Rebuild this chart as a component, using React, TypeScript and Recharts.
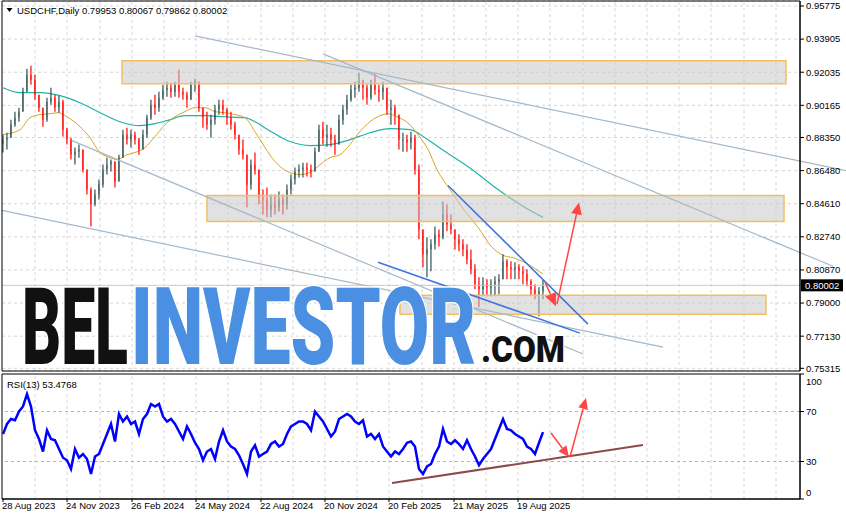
import React from 'react';
import { ComposedChart, Bar, Line, XAxis, YAxis, CartesianGrid, ReferenceLine, ReferenceArea } from 'recharts';

const FONT = "'Liberation Sans', Arial, sans-serif";

// ---- price bars (each bar = 4 trading days) ----
const daysPerBar = 4;
const firstOpen = 0.8800;
const barHigh = [
  0.8851, 0.8862, 0.8935, 0.8981, 0.9003, 0.9116, 0.9223, 0.9240, 0.9189, 0.9076,
  0.9003, 0.9059, 0.9116, 0.9076, 0.9071, 0.9048, 0.8890, 0.8834, 0.8778, 0.8795,
  0.8767, 0.8654, 0.8553, 0.8541, 0.8598, 0.8682, 0.8721, 0.8710, 0.8699, 0.8738,
  0.8879, 0.8890, 0.8879, 0.8868, 0.8834, 0.8879, 0.8964, 0.9048, 0.9076, 0.9093,
  0.9133, 0.9150, 0.9144, 0.9150, 0.9217, 0.9116, 0.9093, 0.9150, 0.9166, 0.9133,
  0.9003, 0.8981, 0.8964, 0.9020, 0.9048, 0.9048, 0.9003, 0.8981, 0.8924, 0.8851,
  0.8823, 0.8738, 0.8710, 0.8750, 0.8654, 0.8541, 0.8553, 0.8513, 0.8513, 0.8530,
  0.8513, 0.8569, 0.8626, 0.8665, 0.8682, 0.8693, 0.8693, 0.8682, 0.8778, 0.8907,
  0.8924, 0.8907, 0.8890, 0.8851, 0.8964, 0.9020, 0.9076, 0.9133, 0.9150, 0.9200,
  0.9161, 0.9133, 0.9161, 0.9195, 0.9133, 0.9150, 0.9104, 0.9048, 0.9020, 0.8935,
  0.8862, 0.8851, 0.8868, 0.8851, 0.8682, 0.8316, 0.8271, 0.8260, 0.8333, 0.8316,
  0.8474, 0.8457, 0.8400, 0.8316, 0.8288, 0.8260, 0.8232, 0.8203, 0.8119, 0.8046,
  0.8046, 0.8034, 0.8034, 0.8051, 0.8063, 0.8175, 0.8147, 0.8136, 0.8130, 0.8119,
  0.8108, 0.8091, 0.8034, 0.8006, 0.7989, 0.8034,
];
const barLow = [
  0.8750, 0.8767, 0.8851, 0.8896, 0.8924, 0.9003, 0.9104, 0.9133, 0.9048, 0.8981,
  0.8896, 0.8924, 0.9020, 0.8981, 0.8975, 0.8840, 0.8795, 0.8710, 0.8682, 0.8721,
  0.8637, 0.8513, 0.8333, 0.8446, 0.8485, 0.8553, 0.8626, 0.8643, 0.8553, 0.8598,
  0.8721, 0.8795, 0.8778, 0.8795, 0.8738, 0.8767, 0.8834, 0.8935, 0.8964, 0.8981,
  0.9048, 0.9065, 0.9059, 0.9065, 0.9059, 0.9048, 0.9003, 0.9048, 0.9093, 0.8981,
  0.8890, 0.8879, 0.8834, 0.8907, 0.8964, 0.8964, 0.8907, 0.8879, 0.8823, 0.8738,
  0.8710, 0.8440, 0.8541, 0.8626, 0.8457, 0.8400, 0.8384, 0.8384, 0.8400, 0.8417,
  0.8400, 0.8429, 0.8513, 0.8569, 0.8609, 0.8609, 0.8614, 0.8609, 0.8654, 0.8767,
  0.8795, 0.8783, 0.8783, 0.8738, 0.8823, 0.8907, 0.8964, 0.9037, 0.9059, 0.9093,
  0.9048, 0.9020, 0.9048, 0.9076, 0.9037, 0.9048, 0.8964, 0.8907, 0.8907, 0.8767,
  0.8755, 0.8755, 0.8767, 0.8626, 0.8260, 0.8102, 0.8046, 0.8080, 0.8203, 0.8220,
  0.8260, 0.8305, 0.8288, 0.8203, 0.8192, 0.8164, 0.8119, 0.8063, 0.7978, 0.7877,
  0.7939, 0.7939, 0.7939, 0.7939, 0.7950, 0.8034, 0.8034, 0.8034, 0.8034, 0.8034,
  0.8006, 0.7995, 0.7939, 0.7922, 0.7826, 0.7922,
];
const barClose = [
  0.8823, 0.8834, 0.8907, 0.8947, 0.8981, 0.9093, 0.9189, 0.9161, 0.9076, 0.9003,
  0.8935, 0.9037, 0.9059, 0.9003, 0.9037, 0.8879, 0.8823, 0.8738, 0.8755, 0.8767,
  0.8654, 0.8541, 0.8457, 0.8513, 0.8569, 0.8654, 0.8682, 0.8699, 0.8586, 0.8721,
  0.8851, 0.8823, 0.8851, 0.8823, 0.8767, 0.8851, 0.8947, 0.9020, 0.9003, 0.9059,
  0.9104, 0.9116, 0.9093, 0.9133, 0.9093, 0.9076, 0.9048, 0.9133, 0.9150, 0.9003,
  0.8947, 0.8907, 0.8935, 0.8992, 0.9020, 0.8992, 0.8947, 0.8907, 0.8851, 0.8767,
  0.8738, 0.8569, 0.8682, 0.8654, 0.8496, 0.8485, 0.8429, 0.8457, 0.8440, 0.8485,
  0.8457, 0.8541, 0.8598, 0.8643, 0.8654, 0.8665, 0.8654, 0.8643, 0.8755, 0.8879,
  0.8834, 0.8851, 0.8823, 0.8795, 0.8935, 0.8992, 0.9048, 0.9104, 0.9116, 0.9150,
  0.9116, 0.9059, 0.9133, 0.9104, 0.9093, 0.9116, 0.8992, 0.9003, 0.8964, 0.8823,
  0.8823, 0.8806, 0.8834, 0.8654, 0.8316, 0.8175, 0.8203, 0.8232, 0.8288, 0.8271,
  0.8400, 0.8344, 0.8316, 0.8260, 0.8232, 0.8203, 0.8147, 0.8091, 0.8006, 0.7978,
  0.8006, 0.7989, 0.8006, 0.8023, 0.8034, 0.8136, 0.8102, 0.8091, 0.8102, 0.8080,
  0.8063, 0.8023, 0.7978, 0.7950, 0.7967, 0.80002,
];

// ---- RSI(13), one value per bar ----
const rsiValues = [
  52, 60, 64, 63, 70, 74, 84, 74, 55, 48,
  38, 55, 48, 47, 40, 33, 31, 24, 40, 33,
  36, 32, 20, 34, 36, 44, 52, 60, 46, 68,
  62, 66, 60, 62, 52, 64, 68, 76, 74, 76,
  66, 62, 64, 60, 54, 48, 58, 52, 45, 40,
  31, 38, 40, 32, 46, 55, 46, 42, 40, 35,
  28, 20, 38, 43, 34, 36, 38, 44, 46, 42,
  44, 52, 58, 60, 62, 62, 60, 55, 70, 66,
  62, 56, 50, 54, 64, 66, 68, 66, 62, 60,
  63, 50, 52, 48, 52, 42, 38, 34, 38, 36,
  40, 45, 46, 42, 24, 20, 26, 28, 36, 42,
  56, 46, 44, 47, 44, 40, 47, 40, 34, 27,
  32, 36, 40, 48, 56, 64, 56, 55, 52, 50,
  48, 42, 40, 36, 45, 53.4768,
];

// ---- moving averages (day index, value) ----
const maFastDays = [0, 17, 27, 37, 47, 55, 64, 77, 87, 97, 107, 114, 124, 132, 142, 152, 162, 172, 182, 192, 202, 212, 222, 232, 242, 252, 262, 272, 287, 297, 307, 317, 327, 337, 347, 357, 367, 377, 385, 394, 407, 415, 425, 434, 447, 462, 475, 489, 500, 512, 525, 540];
const maFastValues = [0.8851, 0.8879, 0.8947, 0.8964, 0.8969, 0.8975, 0.8952, 0.8896, 0.8834, 0.8750, 0.8721, 0.8710, 0.8738, 0.8750, 0.8778, 0.8840, 0.8907, 0.8952, 0.8981, 0.9003, 0.9003, 0.8981, 0.8975, 0.8964, 0.8947, 0.8868, 0.8778, 0.8699, 0.8637, 0.8626, 0.8637, 0.8682, 0.8721, 0.8738, 0.8795, 0.8868, 0.8924, 0.8958, 0.8969, 0.8952, 0.8907, 0.8851, 0.8767, 0.8654, 0.8541, 0.8418, 0.8328, 0.8215, 0.8170, 0.8153, 0.8119, 0.8063];
const maSlowDays = [0, 17, 37, 57, 77, 97, 117, 137, 152, 164, 182, 202, 222, 242, 252, 265, 287, 307, 327, 347, 367, 387, 407, 422, 439, 469, 495, 517, 540];
const maSlowValues = [0.9116, 0.9088, 0.9088, 0.9071, 0.9031, 0.8975, 0.8924, 0.8902, 0.8913, 0.8930, 0.8958, 0.8958, 0.8952, 0.8947, 0.8924, 0.8879, 0.8812, 0.8789, 0.8795, 0.8823, 0.8862, 0.8885, 0.8879, 0.8834, 0.8767, 0.8654, 0.8541, 0.8457, 0.8384];

// ---- axes ----
const priceTicks = [0.95775, 0.93905, 0.92035, 0.90165, 0.8835, 0.8648, 0.8461, 0.8274, 0.8087, 0.79, 0.7713, 0.75315];
const rsiTicks = [0, 30, 70, 100];
const rsiLevels = [30, 70];
const dateTickDays = [0, 64, 129, 193, 258, 322, 386, 451, 515];
const dateTickLabels = ['28 Aug 2023', '24 Nov 2023', '26 Feb 2024', '24 May 2024', '22 Aug 2024', '20 Nov 2024', '20 Feb 2025', '21 May 2025', '19 Aug 2025'];
const gridDays = [32, 64, 97, 129, 161, 193, 225, 258, 290, 322, 354, 386, 419, 451, 483, 515, 547, 580, 612, 644, 676, 708, 741, 773];
const dayDomain = [-1, 797];
const priceDomain = [0.75164, 0.96057];

const symbolTitle = 'USDCHF,Daily';
const ohlcTitle = ['0.79953', '0.80067', '0.79862', '0.80002'];
const lastPrice = 0.80002;
const rsiTitle = 'RSI(13) 53.4768';

// ---- zones: start day, end day, bottom, top ----
const zoneStart = [119, 204, 397];
const zoneEnd = [783, 781, 763];
const zoneBottom = [0.91382, 0.83611, 0.78373];
const zoneTop = [0.92678, 0.85074, 0.79443];

// ---- trend lines: [day1, price1, day2, price2] ----
const grayLines = [
  [192, 0.94086, 843, 0.86483],
  [320, 0.93072, 830, 0.81076],
  [-1, 0.84230, 660, 0.76515],
  [69, 0.88172, 580, 0.76120],
];
const blueLines = [
  [375, 0.81301, 577, 0.77303],
  [445, 0.85638, 585, 0.77810],
];
const priceArrows = [
  [542, 0.80175, 553, 0.78823],
  [554, 0.78936, 576, 0.84680],
];
const rsiArrows = [
  [548, 52.8, 566, 33.6],
  [567, 33.6, 583, 80.8],
];
const rsiTrend = [389, 12.8, 640, 43.2];

const candleRows = barClose.map((c, i) => {
  const open = i === 0 ? firstOpen : barClose[i - 1];
  const hi = Math.max(barHigh[i], open, c);
  const lo = Math.min(barLow[i], open, c);
  return { day: i * daysPerBar, open, close: c, high: hi, low: lo, range: [lo, hi] };
});
const rsiRows = rsiValues.map((v, i) => ({ day: i * daysPerBar, rsi: v }));
const maFastRows = maFastDays.map((d, i) => ({ day: d, ma: maFastValues[i] }));
const maSlowRows = maSlowDays.map((d, i) => ({ day: d, ma: maSlowValues[i] }));

const Candle = (props: any) => {
  const { x, y, width, height, payload } = props;
  if (x == null || y == null || !payload) return null;
  const top = Math.min(y, y + height);
  const h = Math.abs(height);
  const span = payload.high - payload.low || 1;
  const py = (v: number) => top + ((payload.high - v) / span) * h;
  const up = payload.close >= payload.open;
  const color = up ? '#2F4F4F' : '#FF0000';
  const oy = py(payload.open);
  const cy = py(payload.close);
  const cx = x + width / 2;
  return (
    <g>
      <line x1={cx} x2={cx} y1={top} y2={top + h} stroke={color} strokeWidth={1.2} />
      <rect x={x} y={Math.min(oy, cy)} width={width} height={Math.max(1, Math.abs(oy - cy))} fill={color} />
    </g>
  );
};

const makeArrow = (head: number, color: string) => (props: any) => {
  const { x1, y1, x2, y2 } = props;
  if (x1 == null) return null;
  const ang = Math.atan2(y2 - y1, x2 - x1);
  const bx = x2 - head * Math.cos(ang);
  const by = y2 - head * Math.sin(ang);
  const w = head * 0.45;
  const px = -Math.sin(ang) * w;
  const py = Math.cos(ang) * w;
  return (
    <g>
      <line x1={x1} y1={y1} x2={bx} y2={by} stroke={color} strokeWidth={1.5} />
      <polygon points={`${x2},${y2} ${bx + px},${by + py} ${bx - px},${by - py}`} fill={color} />
    </g>
  );
};

const PriceTag = (props: any) => {
  const vb = props.viewBox;
  if (!vb) return null;
  const x = vb.x + vb.width;
  const y = vb.y;
  return (
    <g>
      <rect x={x + 1} y={y - 6} width={42} height={12} fill="#000" />
      <text x={x + 5} y={y + 3.5} fill="#fff" fontSize={9.5} fontFamily={FONT}>{lastPrice.toFixed(5)}</text>
    </g>
  );
};

const RsiTick = (props: any) => {
  const { x, y, payload } = props;
  const v = payload.value;
  const dy = v === 100 ? 7 : v === 0 ? -7 : 0;
  return (
    <text x={x} y={y + dy + 3.5} fontSize={9.5} fontFamily={FONT} fill="#000">{v}</text>
  );
};

const DateTick = (props: any) => {
  const { x, y, payload } = props;
  const idx = dateTickDays.indexOf(payload.value);
  return (
    <text x={x - 1} y={y + 7} fontSize={9.5} fontFamily={FONT} fill="#000">{dateTickLabels[idx]}</text>
  );
};

const gridStroke = '#D6D6D6';
const trendGray = '#A4B8CA';
const trendBlue = '#3D74E0';
const arrowRed = '#FF4545';

export default function App() {
  return (
    <div style={{ position: 'absolute', left: 0, top: 0, width: 846, height: 520, background: '#fff', fontFamily: FONT, overflow: 'hidden' }}>
      <div style={{ position: 'absolute', left: 0, top: 0 }}>
        <ComposedChart width={846} height={377} data={candleRows} margin={{ top: 1, right: 0, bottom: 6, left: 2 }}>
          <CartesianGrid horizontal vertical={false} stroke={gridStroke} strokeDasharray="3 3" />
          <XAxis type="number" dataKey="day" domain={dayDomain} hide allowDataOverflow />
          <YAxis
            orientation="right"
            width={46}
            domain={priceDomain}
            ticks={priceTicks}
            interval={0}
            allowDataOverflow
            tickFormatter={(v: number) => v.toFixed(5)}
            tick={{ fontSize: 9.5, fontFamily: FONT, fill: '#000' }}
            tickSize={4}
            tickMargin={2}
            axisLine={{ stroke: '#000' }}
            tickLine={{ stroke: '#000' }}
          />
          {gridDays.map((d) => (
            <ReferenceLine key={'g' + d} x={d} stroke={gridStroke} strokeDasharray="3 3" zIndex={-90} />
          ))}
          <Line data={maSlowRows} dataKey="ma" type="monotone" stroke="#20B2AA" strokeWidth={1.2} dot={false} isAnimationActive={false} zIndex={250} />
          <Line data={maFastRows} dataKey="ma" type="monotone" stroke="#DAA520" strokeWidth={1} dot={false} isAnimationActive={false} zIndex={250} />
          <Bar dataKey="range" barSize={3} shape={Candle} isAnimationActive={false} zIndex={300} />
          {zoneStart.map((s, i) => (
            <ReferenceArea key={'z' + i} x1={s} x2={zoneEnd[i]} y1={zoneBottom[i]} y2={zoneTop[i]} fill="#C8C8C8" fillOpacity={0.55} stroke="#F2BE62" strokeWidth={1.5} ifOverflow="visible" zIndex={350} />
          ))}
          <ReferenceLine y={lastPrice} stroke="#C8C8C8" label={<PriceTag />} ifOverflow="visible" zIndex={380} />
          {grayLines.map((l, i) => (
            <ReferenceLine key={'t' + i} segment={[{ x: l[0], y: l[1] }, { x: l[2], y: l[3] }]} stroke={trendGray} strokeWidth={1.2} ifOverflow="visible" zIndex={400} />
          ))}
          {blueLines.map((l, i) => (
            <ReferenceLine key={'b' + i} segment={[{ x: l[0], y: l[1] }, { x: l[2], y: l[3] }]} stroke={trendBlue} strokeWidth={1.5} ifOverflow="visible" zIndex={400} />
          ))}
          {priceArrows.map((l, i) => (
            <ReferenceLine key={'a' + i} segment={[{ x: l[0], y: l[1] }, { x: l[2], y: l[3] }]} shape={makeArrow(i === 0 ? 13 : 12, arrowRed)} ifOverflow="visible" zIndex={450} />
          ))}
          <ReferenceArea x1={dayDomain[0]} x2={dayDomain[1]} y1={priceDomain[0]} y2={priceDomain[1]} fill="none" stroke="#000" strokeWidth={1} ifOverflow="visible" zIndex={500} />
        </ComposedChart>
      </div>
      <div style={{ position: 'absolute', left: 0, top: 372 }}>
        <ComposedChart width={846} height={148} data={rsiRows} margin={{ top: 2, right: 0, bottom: 0, left: 2 }}>
          <XAxis
            type="number"
            dataKey="day"
            domain={dayDomain}
            allowDataOverflow
            ticks={dateTickDays}
            interval={0}
            height={21}
            tick={<DateTick />}
            tickSize={3}
            tickMargin={0}
            axisLine={{ stroke: '#000' }}
            tickLine={{ stroke: '#000' }}
          />
          <YAxis
            orientation="right"
            width={46}
            domain={[0, 100]}
            ticks={rsiTicks}
            interval={0}
            allowDataOverflow
            tick={<RsiTick />}
            tickSize={4}
            tickMargin={2}
            axisLine={{ stroke: '#000' }}
            tickLine={{ stroke: '#000' }}
          />
          {gridDays.map((d) => (
            <ReferenceLine key={'g' + d} x={d} stroke={gridStroke} strokeDasharray="3 3" zIndex={-90} />
          ))}
          {rsiLevels.map((v) => (
            <ReferenceLine key={'l' + v} y={v} stroke="#B4B4B4" strokeDasharray="3 3" zIndex={-80} />
          ))}
          <Line dataKey="rsi" type="linear" stroke="#0000FF" strokeWidth={2.5} dot={false} isAnimationActive={false} zIndex={300} />
          <ReferenceLine segment={[{ x: rsiTrend[0], y: rsiTrend[1] }, { x: rsiTrend[2], y: rsiTrend[3] }]} stroke="#8E4A4A" strokeWidth={2} ifOverflow="visible" zIndex={400} />
          {rsiArrows.map((l, i) => (
            <ReferenceLine key={'ra' + i} segment={[{ x: l[0], y: l[1] }, { x: l[2], y: l[3] }]} shape={makeArrow(11, arrowRed)} ifOverflow="visible" zIndex={450} />
          ))}
          <ReferenceArea x1={dayDomain[0]} x2={dayDomain[1]} y1={0} y2={100} fill="none" stroke="#000" strokeWidth={1} ifOverflow="visible" zIndex={500} />
        </ComposedChart>
      </div>
      <svg width={846} height={520} style={{ position: 'absolute', left: 0, top: 0, pointerEvents: 'none' }}>
        <polygon points="6.5,8 12.5,8 9.5,12" fill="#000" />
        <text x={17} y={14} fontSize={9.5} fontFamily={FONT} fill="#000">
          {symbolTitle + '  ' + ohlcTitle.join(' ')}
        </text>
        <text x={7} y={388} fontSize={9.5} fontFamily={FONT} fill="#000">{rsiTitle}</text>
        <g fontFamily="Roboto, 'Liberation Sans', sans-serif" fontWeight={900} stroke="#fff" strokeWidth={3} style={{ paintOrder: 'stroke' }}>
          <text x={22} y={364} fontSize={107} textLength={106} lengthAdjust="spacingAndGlyphs" fill="#111">BEL</text>
          <text x={131} y={364} fontSize={108} textLength={345} lengthAdjust="spacingAndGlyphs" fill="#4A8FE2">INVESTOR</text>
          <text x={481} y={362} fontSize={36} textLength={84} lengthAdjust="spacingAndGlyphs" fill="#111">.COM</text>
        </g>
      </svg>
    </div>
  );
}
